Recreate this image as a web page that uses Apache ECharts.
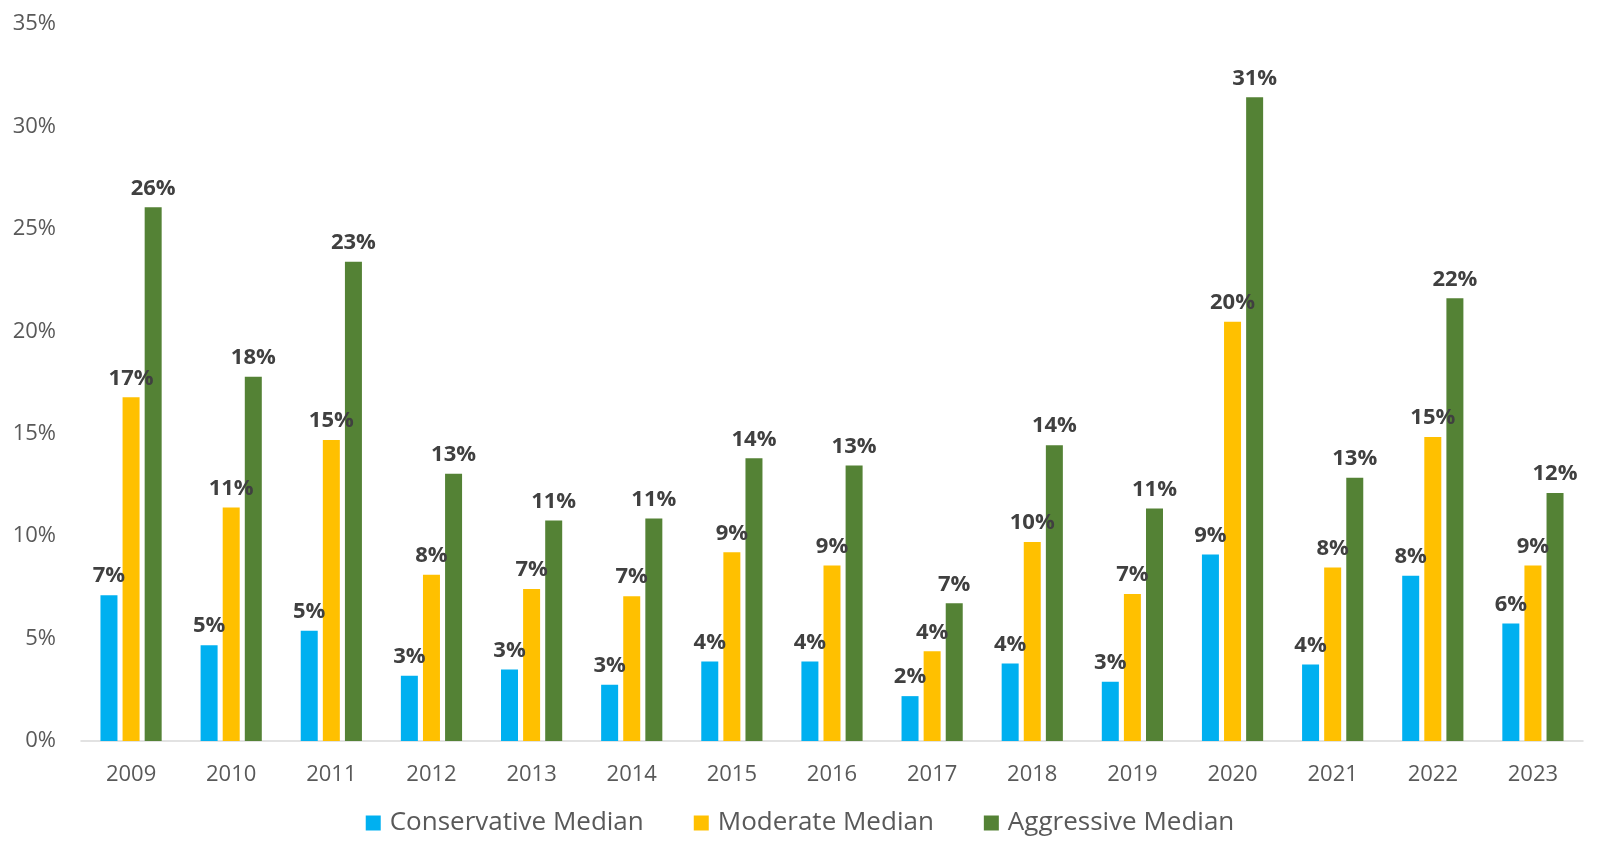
<!DOCTYPE html>
<html>
<head>
<meta charset="utf-8">
<script src="https://cdn.jsdelivr.net/npm/echarts@6/dist/echarts.min.js"></script>
<style>html,body{margin:0;padding:0;background:#fff;}#c{width:1600px;height:853px;}</style>
</head>
<body>
<div id="c"></div>
<script>
const years = ['2009','2010','2011','2012','2013','2014','2015','2016','2017','2018','2019','2020','2021','2022','2023'];
const conservative = [7.12, 4.68, 5.38, 3.19, 3.49, 2.74, 3.88, 3.88, 2.19, 3.78, 2.89, 9.11, 3.73, 8.07, 5.73];
const moderate = [16.78, 11.40, 14.69, 8.12, 7.42, 7.07, 9.21, 8.57, 4.38, 9.71, 7.17, 20.47, 8.47, 14.84, 8.57];
const aggressive = [26.05, 17.78, 23.40, 13.05, 10.76, 10.86, 13.80, 13.45, 6.72, 14.44, 11.35, 31.42, 12.85, 21.61, 12.10];
const seriesNames = ['Conservative Median', 'Moderate Median', 'Aggressive Median'];
const yTicks = { min: 0, max: 35, interval: 5 };

const FONT = '"Open Sans"';
const chart = echarts.init(document.getElementById('c'));
function mk(name, data, color) {
  return {
    name, type: 'bar', data, barWidth: 17, barGap: '30%',
    itemStyle: { color },
    label: {
      show: true, position: 'top', distance: 8,
      formatter: p => Math.round(p.value) + '%',
      fontFamily: FONT, fontWeight: 'bold', fontSize: 22, color: '#404040'
    }
  };
}
chart.setOption({
  animation: false,
  backgroundColor: '#fff',
  grid: { left: 81, right: 17, top: 24, bottom: 112, containLabel: false },
  legend: {
    data: seriesNames, left: 'center', top: 803, itemWidth: 15, itemHeight: 15, itemGap: 50,
    icon: 'rect',
    textStyle: { fontFamily: FONT, fontSize: 26, color: '#595959', lineHeight: 30, padding: [0, 0, 0, 4] }
  },
  xAxis: {
    type: 'category', data: years,
    axisLine: { lineStyle: { color: '#D9D9D9', width: 1.5 } },
    axisTick: { show: false },
    axisLabel: { fontFamily: FONT, fontSize: 22, color: '#595959', margin: 23 }
  },
  yAxis: {
    type: 'value', min: yTicks.min, max: yTicks.max, interval: yTicks.interval,
    axisLine: { show: false }, axisTick: { show: false }, splitLine: { show: false },
    axisLabel: { formatter: '{value}%', fontFamily: FONT, fontSize: 22, color: '#595959', margin: 25 }
  },
  series: [
    mk(seriesNames[0], conservative, '#00B0F0'),
    mk(seriesNames[1], moderate, '#FFC000'),
    mk(seriesNames[2], aggressive, '#548235')
  ]
});
</script>
</body>
</html>
